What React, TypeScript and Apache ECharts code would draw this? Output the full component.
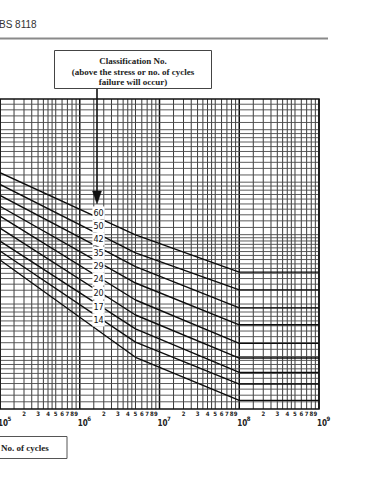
import React, { useEffect, useRef } from 'react';
import * as echarts from 'echarts';

// ---- data ----
const classificationNos = ['60', '50', '42', '35', '29', '24', '20', '17', '14'];
const curveCycles = [1e5, 5e6, 1e8, 1e9];
const stressAt1e5 = [113.4, 97.0, 83.9, 72.7, 63.8, 54.5, 45.9, 40.3, 35.8];
const stressAt5e6 = [49.8, 39.3, 32.8, 26.4, 21.1, 17.3, 14.4, 12.1, 9.9];
const stressAt1e8 = [30.5, 24.1, 19.0, 15.2, 11.9, 9.8, 8.1, 6.95, 5.6];
const stressAt1e9 = [30.5, 24.1, 19.0, 15.2, 11.9, 9.8, 8.1, 6.95, 5.6];
const labelCycles = 1.72e6;
const labelStress = [66.6, 56.0, 47.2, 39.2, 33.0, 27.8, 23.1, 19.2, 16.2];
const decadeExponents = [5, 6, 7, 8, 9];
const minorTickDigits = [2, 3, 4, 5, 6, 7, 8, 9];
const xGridMantissas = [1, 1.5, 2, 2.5, 3, 3.5, 4, 4.5, 5, 6, 7, 8, 9];
const yGridMantissas = [
  1, 1.1, 1.2, 1.3, 1.4, 1.5, 1.6, 1.7, 1.8, 1.9,
  2, 2.2, 2.4, 2.6, 2.8, 3, 3.2, 3.4, 3.6, 3.8, 4, 4.2, 4.4, 4.6, 4.8,
  5, 5.5, 6, 6.5, 7, 7.5, 8, 8.5, 9, 9.5,
];
const yDecades = [1, 10, 100];

const X_MIN = 1e5;
const X_MAX = 1e9;
const Y_MIN = 5;
const Y_MAX = 300;

const SERIF = "'Liberation Serif', 'Times New Roman', serif";
const NARROW = "'Liberation Sans Narrow', 'DejaVu Sans Condensed', 'Liberation Sans', sans-serif";

export default function App() {
  const ref = useRef<HTMLDivElement>(null);

  useEffect(() => {
    if (!ref.current) return;
    const chart = echarts.init(ref.current, undefined, { renderer: 'svg' });

    const vGrid: number[][] = [];
    for (let e = 5; e <= 8; e++) {
      for (const m of xGridMantissas) vGrid.push([m * Math.pow(10, e), Y_MIN, m === 1 ? 1 : 0]);
    }
    vGrid.push([X_MAX, Y_MIN, 1]);

    const hGrid: number[][] = [];
    for (const d of yDecades) {
      for (const m of yGridMantissas) {
        const v = m * d;
        if (v > Y_MIN + 1e-9 && v < Y_MAX - 1e-9) hGrid.push([X_MIN, v, 0]);
      }
    }

    const curveSeries = classificationNos.map((c, i) => ({
      type: 'line',
      name: 'Class ' + c,
      z: 3,
      silent: true,
      clip: true,
      symbol: 'none',
      showSymbol: false,
      data: [
        [curveCycles[0], stressAt1e5[i]],
        [curveCycles[1], stressAt5e6[i]],
        [curveCycles[2], stressAt1e8[i]],
        [curveCycles[3], stressAt1e9[i]],
      ],
      lineStyle: { color: '#0d0d0d', width: 1.4 },
    }));

    const option: any = {
      animation: false,
      backgroundColor: '#fff',
      color: ['#111'],
      grid: {
        left: -3,
        top: 99,
        width: 322,
        height: 310,
        show: true,
        borderColor: '#111',
        borderWidth: 1.5,
        backgroundColor: 'transparent',
        z: 4,
      },
      xAxis: {
        type: 'log',
        logBase: 10,
        min: X_MIN,
        max: X_MAX,
        axisLine: { show: false },
        axisTick: { show: false },
        axisLabel: { show: false },
        splitLine: { show: false },
      },
      yAxis: {
        type: 'log',
        logBase: 10,
        min: Y_MIN,
        max: Y_MAX,
        axisLine: { show: false },
        axisTick: { show: false },
        axisLabel: { show: false },
        splitLine: { show: false },
      },
      series: [
        {
          type: 'custom',
          name: 'vgrid',
          z: 1,
          silent: true,
          clip: false,
          encode: { x: 0, y: 1 },
          data: vGrid,
          renderItem: (params: any, api: any) => {
            const cs = params.coordSys;
            const p = api.coord([api.value(0), api.value(1)]);
            const major = api.value(2) === 1;
            return {
              type: 'line',
              shape: { x1: p[0], y1: cs.y, x2: p[0], y2: cs.y + cs.height },
              style: { stroke: major ? '#111' : '#3c3c3c', lineWidth: major ? 1.5 : 1 },
            };
          },
        },
        {
          type: 'custom',
          name: 'hgrid',
          z: 1,
          silent: true,
          clip: false,
          encode: { x: 0, y: 1 },
          data: hGrid,
          renderItem: (params: any, api: any) => {
            const cs = params.coordSys;
            const p = api.coord([api.value(0), api.value(1)]);
            return {
              type: 'line',
              shape: { x1: cs.x, y1: p[1], x2: cs.x + cs.width, y2: p[1] },
              style: { stroke: '#4a4a4a', lineWidth: 0.9 },
            };
          },
        },
        ...curveSeries,
        {
          type: 'custom',
          name: 'classLabels',
          z: 5,
          silent: true,
          clip: false,
          encode: { x: 0, y: 1 },
          itemStyle: { color: '#111' },
          data: labelStress.map((v, i) => [labelCycles, v, i]),
          renderItem: (params: any, api: any) => {
            const p = api.coord([api.value(0), api.value(1)]);
            return {
              type: 'text',
              x: p[0],
              y: p[1],
              style: {
                text: classificationNos[api.value(2)],
                fontSize: 9,
                fontFamily: NARROW,
                fill: '#111',
                align: 'center',
                verticalAlign: 'middle',
                backgroundColor: '#fff',
                padding: [2, 1, 2, 1],
              },
            };
          },
        },
        {
          type: 'custom',
          name: 'minorLabels',
          z: 5,
          silent: true,
          clip: false,
          encode: { x: 0, y: 1 },
          itemStyle: { color: '#111' },
          data: decadeExponents.slice(0, 4).flatMap((e) => minorTickDigits.map((d) => [d * Math.pow(10, e), Y_MIN, d])),
          renderItem: (params: any, api: any) => {
            const p = api.coord([api.value(0), api.value(1)]);
            return {
              type: 'text',
              x: p[0],
              y: p[1] + 4.5,
              style: {
                text: String(api.value(2)),
                fontSize: 6,
                fontWeight: 'bold',
                fontFamily: NARROW,
                fill: '#222',
                align: 'center',
                verticalAlign: 'middle',
              },
            };
          },
        },
        {
          type: 'custom',
          name: 'decadeLabels',
          z: 5,
          silent: true,
          clip: false,
          encode: { x: 0, y: 1 },
          itemStyle: { color: '#111' },
          data: decadeExponents.map((e) => [Math.pow(10, e), Y_MIN, e]),
          renderItem: (params: any, api: any) => {
            const p = api.coord([api.value(0), api.value(1)]);
            return {
              type: 'group',
              children: [
                {
                  type: 'text',
                  x: p[0] - 2,
                  y: p[1] + 14.5,
                  style: {
                    text: '10',
                    fontSize: 8,
                    fontWeight: 'bold',
                    fontFamily: NARROW,
                    fill: '#222',
                    align: 'left',
                    verticalAlign: 'middle',
                  },
                },
                {
                  type: 'text',
                  x: p[0] + 7.5,
                  y: p[1] + 9,
                  style: {
                    text: String(api.value(2)),
                    fontSize: 6,
                    fontWeight: 'bold',
                    fontFamily: NARROW,
                    fill: '#222',
                    align: 'left',
                    verticalAlign: 'middle',
                  },
                },
              ],
            };
          },
        },
      ],
      graphic: [
        {
          type: 'text',
          left: -1,
          top: 19,
          style: { text: 'BS 8118', fontSize: 10, fontFamily: "'Liberation Sans', Arial, sans-serif", fill: '#333' },
        },
        {
          type: 'line',
          shape: { x1: 0, y1: 38.5, x2: 328, y2: 38.5 },
          style: { stroke: '#8a8a8a', lineWidth: 2 },
        },
        {
          type: 'rect',
          shape: { x: 54.5, y: 50.5, width: 157, height: 38 },
          style: { fill: '#fff', stroke: '#444', lineWidth: 1 },
        },
        {
          type: 'text',
          x: 133,
          y: 61,
          style: { text: 'Classification No.', fontSize: 9, fontWeight: 'bold', fontFamily: SERIF, fill: '#222', align: 'center', verticalAlign: 'middle' },
        },
        {
          type: 'text',
          x: 133,
          y: 71.5,
          style: { text: '(above the stress or no. of cycles', fontSize: 9, fontWeight: 'bold', fontFamily: SERIF, fill: '#222', align: 'center', verticalAlign: 'middle' },
        },
        {
          type: 'text',
          x: 133,
          y: 81.5,
          style: { text: 'failure will occur)', fontSize: 9, fontWeight: 'bold', fontFamily: SERIF, fill: '#222', align: 'center', verticalAlign: 'middle' },
        },
        {
          type: 'line',
          z: 10,
          shape: { x1: 97, y1: 89, x2: 97, y2: 194 },
          style: { stroke: '#111', lineWidth: 1.6 },
        },
        {
          type: 'polygon',
          z: 10,
          shape: { points: [[92.5, 191], [101.5, 191], [97, 204]] },
          style: { fill: '#111', stroke: '#111', lineWidth: 0.5 },
        },
        {
          type: 'rect',
          shape: { x: -10, y: 436.5, width: 77, height: 22 },
          style: { fill: '#fff', stroke: '#555', lineWidth: 1 },
        },
        {
          type: 'text',
          x: 1,
          y: 447.5,
          style: { text: 'No. of cycles', fontSize: 9, fontWeight: 'bold', fontFamily: SERIF, fill: '#222', align: 'left', verticalAlign: 'middle' },
        },
      ],
    };

    chart.setOption(option);
    return () => chart.dispose();
  }, []);

  return (
    <div
      ref={ref}
      style={{ position: 'fixed', left: 0, top: 0, width: 376, height: 480, background: '#fff' }}
    />
  );
}
